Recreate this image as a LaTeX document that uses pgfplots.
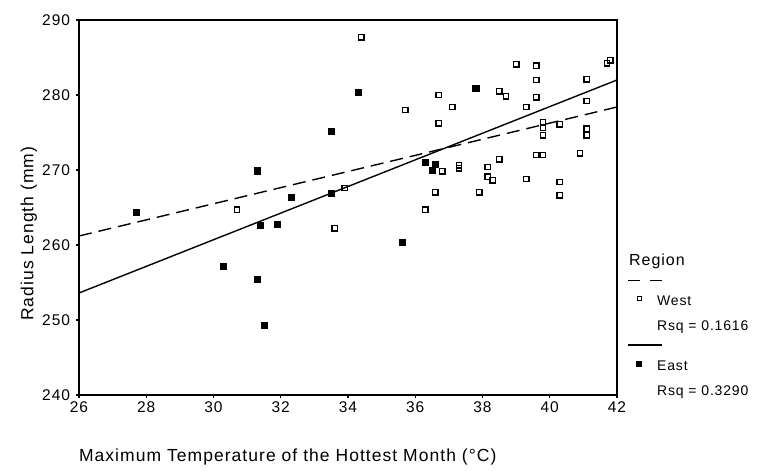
\documentclass[border=0pt]{standalone}
\usepackage{pgfplots}
\pgfplotsset{compat=1.18}
\usepackage{fontspec}
\setmainfont{Liberation Sans}
\newfontfamily\wide[LetterSpace=6]{Liberation Sans}
\begin{document}
\begin{tikzpicture}[x=1pt,y=1pt]
\useasboundingbox (0,0) rectangle (766,471);
\begin{axis}[
  at={(79pt,76pt)}, anchor=south west,
  scale only axis, width=538pt, height=375pt,
  xmin=26, xmax=42, ymin=240, ymax=290,
  xtick={26,28,...,42}, ytick={240,250,...,290},
  tick align=outside, xtick pos=bottom, ytick pos=left,
  major tick length=3pt,
  axis line style={line width=1.3pt},
  every tick/.style={black, line width=1.3pt},
  tick label style={font=\fontsize{15.5}{15.5}\selectfont\wide},
  yticklabel style={xshift=-2.5pt},
  /pgf/number format/assume math mode=true,
  xlabel={Maximum Temperature of the Hottest Month (°C)},
  ylabel={Radius Length (mm)},
  label style={font=\fontsize{17.5}{17.5}\selectfont\wide},
  xlabel style={at={(axis description cs:0.388,-0.165)}, anchor=center},
  ylabel style={at={(axis description cs:-0.093,0.43)}, anchor=center},
  legend style={at={(rel axis cs:1.0204,0.324)}, anchor=north west, draw=none, fill=none,
    inner sep=0pt, column sep=0pt, row sep=8.6pt,
    font=\fontsize{14}{14}\selectfont\wide,
    nodes={text height=10pt, text depth=3pt, inner xsep=2pt, inner ysep=0pt}},
  legend cell align=left,
]
% West regression (dashed)
\addplot[forget plot, black, line width=1.4pt, dash pattern=on 13pt off 7pt] coordinates {(26,261.2) (42,278.4)};
% East regression (solid)
\addplot[forget plot, black, line width=1.4pt] coordinates {(26,253.6) (42,282.0)};
% West points (open squares)
\addplot[forget plot, only marks, mark=square, mark size=2.7pt, mark options={line width=1.4pt, fill=white}, black] table {
x y
30.7 264.7
33.6 262.2
33.9 267.6
34.4 287.7
35.7 278.0
36.3 264.7
36.6 267.0
36.7 280.0
36.7 276.2
36.8 269.8
37.1 278.4
37.3 270.6
37.3 270.2
37.9 267.0
38.15 270.4
38.15 269.1
38.3 268.6
38.5 280.5
38.5 271.4
38.7 279.8
39.0 284.1
39.3 278.4
39.3 268.8
39.6 283.9
39.6 282.0
39.6 279.7
39.6 272.0
39.8 276.4
39.8 275.6
39.8 274.6
39.8 272.0
40.3 276.1
40.3 268.4
40.3 266.6
40.9 272.2
41.1 282.1
41.1 279.2
41.1 275.5
41.1 274.6
41.7 284.2
41.8 284.6
};
% East points (filled squares)
\addplot[forget plot, only marks, mark=square*, mark size=3.1pt, black] table {
x y
27.7 264.4
30.3 257.2
31.3 269.9
31.3 255.4
31.4 262.6
31.5 249.3
31.9 262.8
32.3 266.4
33.5 275.2
33.5 266.9
34.3 280.4
35.6 260.4
36.3 271.0
36.5 270.0
36.6 270.8
37.8 280.9
};
\addlegendimage{black, no markers, legend image code/.code={\path[draw=none,fill=none] (0pt,-3pt) rectangle (27pt,3pt); \draw[black, line width=1.2pt, dash pattern=on 12pt off 10pt, overlay] (0pt,0pt) -- (34pt,0pt);}}
\addlegendentry{}
\addlegendimage{black, no markers, legend image code/.code={\path[draw=none,fill=none] (0pt,-3pt) rectangle (27pt,3pt); \draw[black, line width=1pt, fill=white] (9pt,1pt) rectangle (13pt,5pt);}}
\addlegendentry{West}
\addlegendimage{black, no markers, legend image code/.code={\path[draw=none,fill=none] (0pt,-3pt) rectangle (27pt,3pt);}}
\addlegendentry{\raisebox{-4pt}{Rsq = 0.1616}}
\addlegendimage{black, no markers, legend image code/.code={\path[draw=none,fill=none] (0pt,-3pt) rectangle (27pt,3pt); \draw[black, line width=1.2pt, overlay] (0pt,0pt) -- (34pt,0pt);}}
\addlegendentry{}
\addlegendimage{black, no markers, legend image code/.code={\path[draw=none,fill=none] (0pt,-3pt) rectangle (27pt,3pt); \fill[black] (8.5pt,0.5pt) rectangle (13.5pt,5.5pt);}}
\addlegendentry{East}
\addlegendimage{black, no markers, legend image code/.code={\path[draw=none,fill=none] (0pt,-3pt) rectangle (27pt,3pt);}}
\addlegendentry{\raisebox{-4pt}{Rsq = 0.3290}}
\end{axis}
\node[anchor=west, font=\fontsize{16}{16}\selectfont\wide, inner sep=0pt] at (629,210) {Region};
\end{tikzpicture}
\end{document}
